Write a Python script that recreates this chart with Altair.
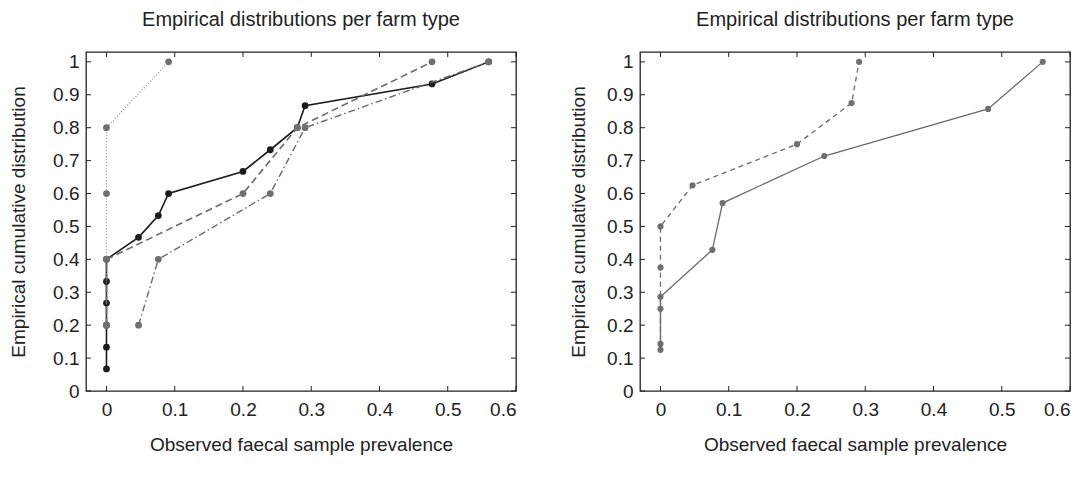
import altair as alt
import pandas as pd

# ---------------- data ----------------
TITLE = "Empirical distributions per farm type"
X_TITLE = "Observed faecal sample prevalence"
Y_TITLE = "Empirical cumulative distribution"

XTICKS = [0, 0.1, 0.2, 0.3, 0.4, 0.5, 0.6]
YTICKS = [0, 0.1, 0.2, 0.3, 0.4, 0.5, 0.6, 0.7, 0.8, 0.9, 1.0]

# left panel
L_solid_x = [0, 0, 0, 0, 0, 0, 0.047, 0.076, 0.091, 0.2, 0.24, 0.2795, 0.291, 0.477, 0.56]
L_solid_y = [0.067, 0.133, 0.2, 0.267, 0.333, 0.4, 0.467, 0.533, 0.6, 0.667, 0.733, 0.8, 0.867, 0.933, 1.0]
L_dotted_x = [0, 0, 0, 0, 0.091]
L_dotted_y = [0.2, 0.4, 0.6, 0.8, 1.0]
L_dashed_x = [0, 0, 0.2, 0.2795, 0.477]
L_dashed_y = [0.2, 0.4, 0.6, 0.8, 1.0]
L_dashdot_x = [0.047, 0.076, 0.24, 0.291, 0.56]
L_dashdot_y = [0.2, 0.4, 0.6, 0.8, 1.0]

# right panel
R_solid_x = [0, 0, 0.076, 0.091, 0.24, 0.48, 0.56]
R_solid_y = [0.143, 0.286, 0.429, 0.571, 0.714, 0.857, 1.0]
R_dashed_x = [0, 0, 0, 0, 0.047, 0.2, 0.28, 0.291]
R_dashed_y = [0.125, 0.25, 0.375, 0.5, 0.625, 0.75, 0.875, 1.0]

# ---------------- styling ----------------
W, H = 430, 339
FONT = "Liberation Sans"
FRAME = "#222222"
TICK_LEN = 5

xscale = alt.Scale(domain=[-0.03, 0.6], nice=False, zero=False)
yscale = alt.Scale(domain=[0, 1.03], nice=False, zero=False)


def make_panel(series_list, y_title_pad):
    xaxis = alt.Axis(values=XTICKS, format="~g", title=X_TITLE)
    yaxis = alt.Axis(values=YTICKS, format="~g", title=Y_TITLE, titlePadding=y_title_pad)

    def X():
        return alt.X("x:Q", scale=xscale, axis=xaxis)

    def Y():
        return alt.Y("y:Q", scale=yscale, axis=yaxis)

    xt = pd.DataFrame({"x": XTICKS})
    yt = pd.DataFrame({"y": YTICKS})
    layers = [
        alt.Chart(xt).mark_rule(color=FRAME, strokeWidth=1).encode(
            x=X(), y=alt.value(H), y2=alt.value(H - TICK_LEN)),
        alt.Chart(xt).mark_rule(color=FRAME, strokeWidth=1).encode(
            x=X(), y=alt.value(0), y2=alt.value(TICK_LEN)),
        alt.Chart(yt).mark_rule(color=FRAME, strokeWidth=1).encode(
            y=Y(), x=alt.value(0), x2=alt.value(TICK_LEN)),
        alt.Chart(yt).mark_rule(color=FRAME, strokeWidth=1).encode(
            y=Y(), x=alt.value(W), x2=alt.value(W - TICK_LEN)),
    ]
    for xs, ys, color, width, pcolor, psize, dash in series_list:
        df = pd.DataFrame({"x": xs, "y": ys, "i": list(range(len(xs)))})
        base = alt.Chart(df)
        kw = dict(color=color, strokeWidth=width)
        if dash:
            kw["strokeDash"] = dash
        layers.append(base.mark_line(**kw).encode(x=X(), y=Y(), order=alt.Order("i:Q")))
        layers.append(base.mark_circle(size=psize, color=pcolor, opacity=1).encode(x=X(), y=Y()))
    return alt.layer(*layers).properties(width=W, height=H, title=TITLE)


BLACK = "#1c1c1c"
GRAY = "#6f6f6f"
LINE_GRAY = "#6a6a6a"

left = make_panel([
    (L_solid_x, L_solid_y, BLACK, 1.6, BLACK, 46, None),
    (L_dotted_x, L_dotted_y, "#8a8a8a", 1.2, GRAY, 46, [1, 2]),
    (L_dashed_x, L_dashed_y, LINE_GRAY, 1.6, GRAY, 46, [7, 4]),
    (L_dashdot_x, L_dashdot_y, LINE_GRAY, 1.4, GRAY, 46, [7, 3, 1.5, 3]),
], 24)

right = make_panel([
    (R_solid_x, R_solid_y, LINE_GRAY, 1.3, GRAY, 38, None),
    (R_dashed_x, R_dashed_y, LINE_GRAY, 1.3, GRAY, 38, [5, 4]),
], 18)

chart = (
    alt.hconcat(left, right, spacing=50)
    .properties(padding=0)
    .configure_view(stroke=FRAME, strokeWidth=1.3)
    .configure_axis(
        domain=False, ticks=False, grid=False,
        labelFont=FONT, labelFontSize=19, labelColor="#222222",
        titleFont=FONT, titleFontSize=19, titleFontWeight="normal", titleColor="#222222",
    )
    .configure_axisX(labelPadding=9, titlePadding=16)
    .configure_axisY(labelPadding=7)
    .configure_title(font=FONT, fontSize=20, fontWeight="normal", color="#222222", offset=22)
)

chart.save("out.html", embed_options={"renderer": "svg", "actions": False})
